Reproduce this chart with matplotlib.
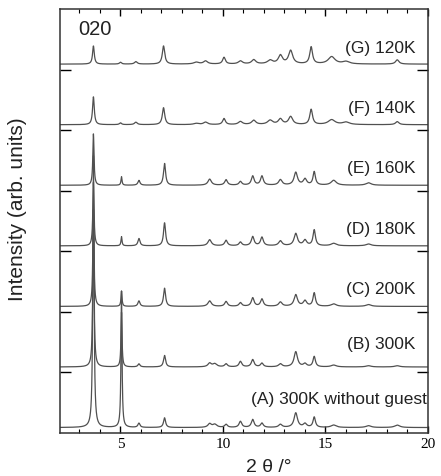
import numpy as np
import matplotlib
matplotlib.use("Agg")
import matplotlib.pyplot as plt
from matplotlib.ticker import MultipleLocator

# peak lists (2theta in degrees, heights in panel units)
low_t_pos = [3.68, 5.0, 5.75, 7.1, 8.7, 9.15, 10.05, 10.85, 11.5, 12.3, 12.8, 13.3, 14.3, 15.3, 16.0, 18.5]
low_t_wid = [0.05, 0.06, 0.08, 0.07, 0.15, 0.12, 0.08, 0.12, 0.12, 0.15, 0.12, 0.12, 0.08, 0.2, 0.2, 0.1]
g_heights = [0.30, 0.03, 0.04, 0.30, 0.03, 0.05, 0.11, 0.05, 0.07, 0.06, 0.14, 0.22, 0.28, 0.12, 0.04, 0.07]
f_heights = [0.46, 0.03, 0.04, 0.28, 0.02, 0.04, 0.10, 0.05, 0.07, 0.07, 0.09, 0.13, 0.25, 0.08, 0.04, 0.05]

high_t_pos = [3.68, 5.05, 5.9, 7.15, 9.35, 9.6, 10.15, 10.85, 11.45, 11.9, 12.8, 13.55, 14.0, 14.45, 15.4, 17.1, 18.5]
high_t_wid = [0.035, 0.03, 0.06, 0.06, 0.1, 0.12, 0.08, 0.08, 0.08, 0.08, 0.1, 0.1, 0.1, 0.07, 0.15, 0.15, 0.15]
e_heights = [0.85, 0.14, 0.08, 0.36, 0.10, 0.0, 0.09, 0.06, 0.15, 0.15, 0.09, 0.21, 0.10, 0.22, 0.08, 0.04, 0.0]
d_heights = [1.05, 0.15, 0.12, 0.38, 0.10, 0.0, 0.09, 0.06, 0.15, 0.14, 0.08, 0.20, 0.09, 0.26, 0.04, 0.03, 0.0]
c_heights = [1.60, 0.25, 0.09, 0.30, 0.09, 0.0, 0.08, 0.06, 0.14, 0.12, 0.07, 0.19, 0.09, 0.22, 0.04, 0.03, 0.0]
b_heights = [2.60, 0.90, 0.05, 0.19, 0.06, 0.05, 0.05, 0.09, 0.12, 0.06, 0.05, 0.25, 0.05, 0.17, 0.03, 0.02, 0.02]
a_heights = [4.50, 2.25, 0.07, 0.16, 0.06, 0.05, 0.05, 0.10, 0.13, 0.07, 0.05, 0.24, 0.06, 0.17, 0.04, 0.03, 0.04]

labels = ["(A) 300K without guest", "(B) 300K", "(C) 200K", "(D) 180K",
          "(E) 160K", "(F) 140K", "(G) 120K"]
label_x = [19.95, 19.4, 19.4, 19.4, 19.4, 19.4, 19.4]
label_dy = [0.48, 0.38, 0.30, 0.28, 0.30, 0.28, 0.28]
tick_labels = ["5", "10", "15", "20"]


def pattern(x, pos, wid, hgt):
    y = np.zeros_like(x)
    for p, w, h in zip(pos, wid, hgt):
        y += h * w ** 2 / ((x - p) ** 2 + w ** 2)
    return y


x = np.arange(2.05, 20.0, 0.004)
traces = [
    (high_t_pos, high_t_wid, a_heights),
    (high_t_pos, high_t_wid, b_heights),
    (high_t_pos, high_t_wid, c_heights),
    (high_t_pos, high_t_wid, d_heights),
    (high_t_pos, high_t_wid, e_heights),
    (low_t_pos, low_t_wid, f_heights),
    (low_t_pos, low_t_wid, g_heights),
]

fig = plt.figure(figsize=(4.41, 4.77), dpi=100)
ax = fig.add_axes([60 / 441, 43 / 477, 368 / 441, 424 / 477])

for i, (pos, wid, hgt) in enumerate(traces):
    base = i + 0.09
    ax.plot(x, base + pattern(x, pos, wid, hgt), color="#505050", lw=0.9)
    ax.text(label_x[i], base + label_dy[i], labels[i], ha="right", va="center",
            fontsize=12.5, family="Liberation Sans", color="#222222")

ax.text(0.049, 0.955, "020", transform=ax.transAxes, ha="left", va="center",
        fontsize=14.5, family="Liberation Sans", color="#222222")

ax.set_xlim(2.05, 20)
ax.set_ylim(0, 7)
ax.xaxis.set_major_locator(MultipleLocator(5))
ax.xaxis.set_minor_locator(MultipleLocator(1))
ax.set_xticks([5, 10, 15, 20])
ax.set_xticklabels(tick_labels, family="Liberation Serif", fontsize=11)
ax.set_yticks([1, 2, 3, 4, 5, 6])
ax.set_yticklabels([])
ax.tick_params(axis="x", which="major", direction="in", top=True, length=5, width=1, pad=3)
ax.tick_params(axis="x", which="minor", direction="in", top=True, length=3, width=0.8)
ax.tick_params(axis="y", which="major", direction="in", right=True, length=8, width=1)
for s in ax.spines.values():
    s.set_linewidth(1.1)
    s.set_color("#333333")

ax.set_ylabel("Intensity (arb. units)", fontsize=15, family="Liberation Sans", color="#222222")
ax.yaxis.set_label_coords(-0.09, 0.53)
ax.set_xlabel("2 θ /°", fontsize=14, family="Liberation Sans", color="#222222")
ax.xaxis.set_label_coords(0.568, -0.058)

fig.savefig("out.png", dpi=100)
